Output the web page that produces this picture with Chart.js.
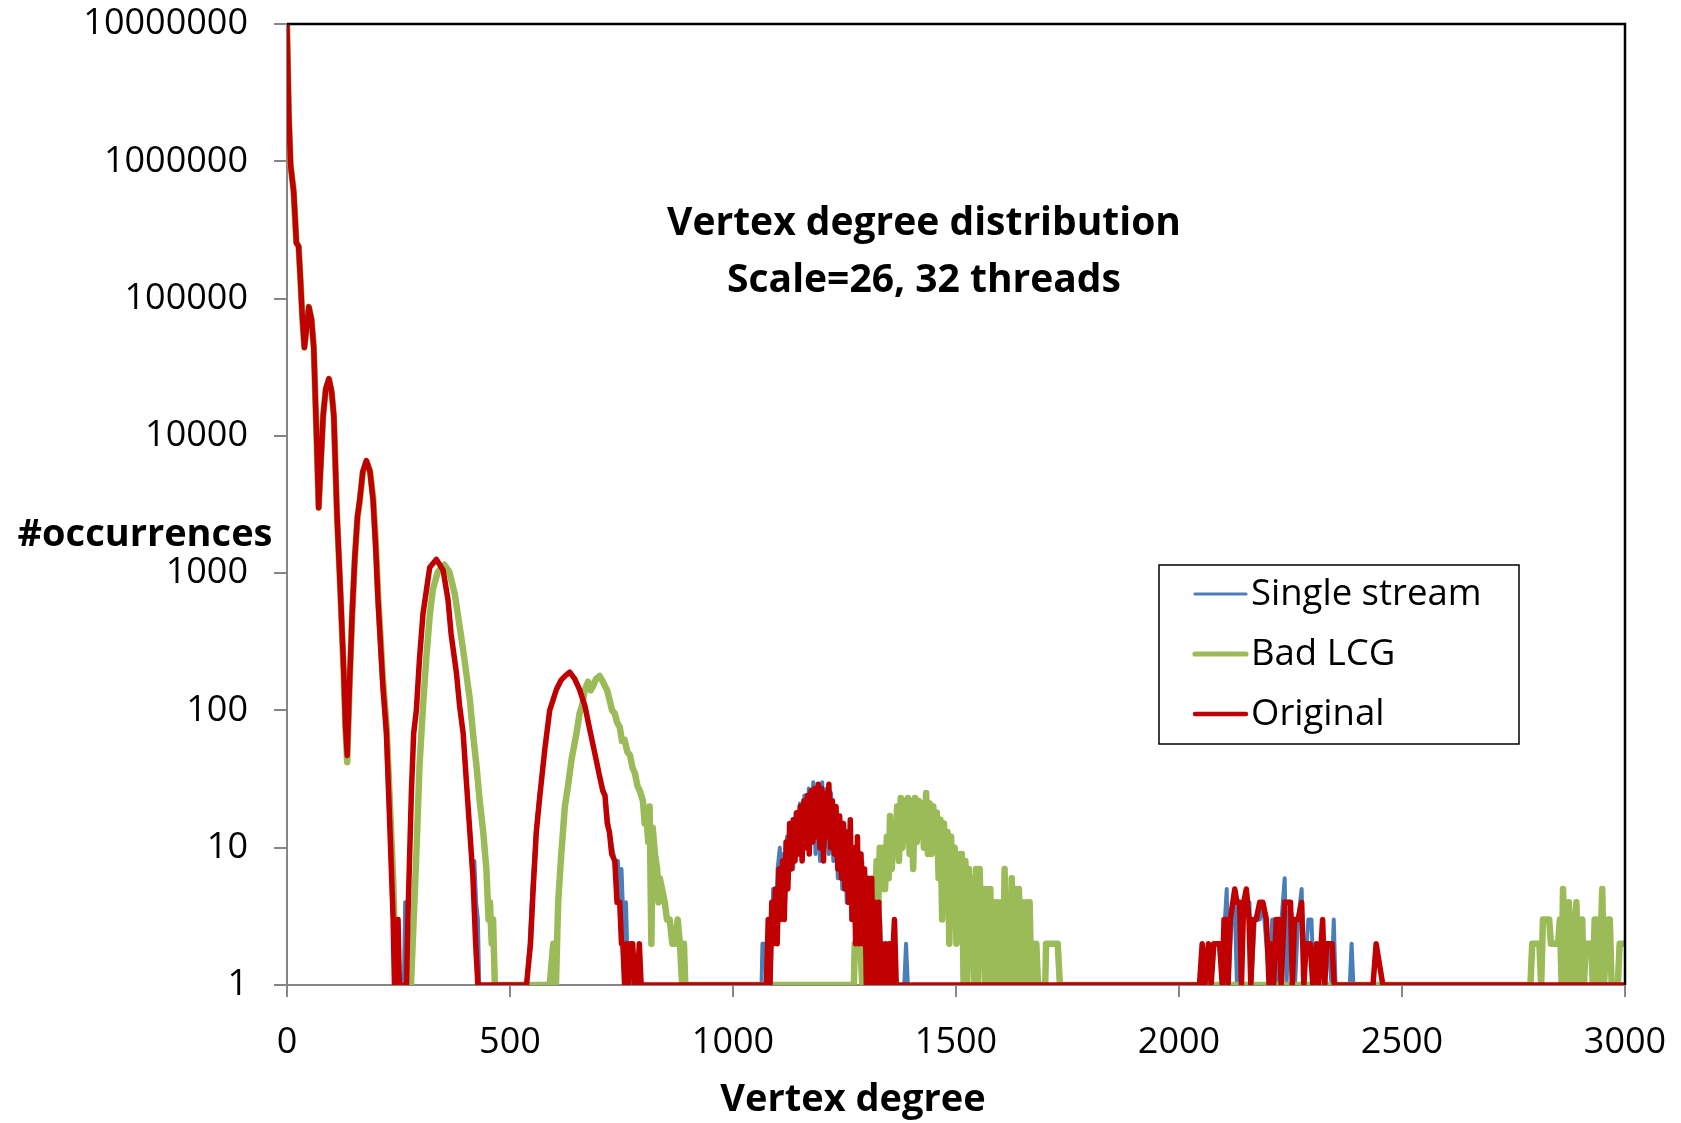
<!DOCTYPE html>
<html>
<head>
<meta charset="utf-8">
<title>Vertex degree distribution</title>
<script src="https://cdn.jsdelivr.net/npm/chart.js@4.4.1/dist/chart.umd.min.js"></script>
<style>
  html, body { margin: 0; padding: 0; background: #fff; }
  #wrap { width: 1681px; height: 1123px; position: relative; }
</style>
</head>
<body>
<div id="wrap"><canvas id="c"></canvas></div>
<script>
// --- data (degree -> #occurrences, 0 counts shown as 1) ---
const seriesNames = ['Single stream', 'Bad LCG', 'Original'];
const yTicks = [1, 10, 100, 1000, 10000, 100000, 1000000, 10000000];

const origDeg = [0, 4, 8, 15, 21, 26, 30, 34, 39, 44, 49, 55, 60, 67, 71, 76, 81, 87, 94, 100, 105, 112, 120, 127, 131, 135, 140, 146, 152, 158, 163, 170, 178, 186, 193, 199, 204, 210, 215, 223, 231, 238, 241, 246, 249, 252, 268, 271, 279, 284, 290, 297, 305, 320, 335, 350, 361, 368, 380, 387, 395, 402, 410, 417, 423, 428,
  537, 546, 552, 559, 567, 578, 589, 604, 615, 625, 634, 645, 656, 668, 679, 690, 701, 708, 713, 718, 723, 728, 735, 740, 746, 750, 753, 757, 761, 766, 770, 775, 780, 785, 790, 794,
  1075, 1079, 1083, 1087, 1091, 1095, 1099, 1103, 1107, 1111, 1115, 1119, 1123, 1127, 1131, 1135, 1139, 1143, 1147, 1151, 1155, 1159, 1163, 1167, 1171, 1175, 1179, 1183, 1187, 1191, 1195, 1199, 1203, 1207, 1211, 1215, 1219, 1223, 1227, 1231, 1235, 1239, 1243, 1247, 1251, 1255, 1259, 1263, 1267, 1271, 1275, 1279, 1283, 1287, 1291, 1295, 1299, 1303, 1307, 1311, 1315, 1319, 1323, 1327, 1331, 1335, 1339, 1343, 1347, 1351, 1355, 1362, 1366,
  2046, 2052, 2058, 2066, 2072, 2078, 2084, 2091, 2097, 2101, 2106, 2110, 2115, 2125, 2130, 2136, 2140, 2145, 2151, 2157, 2161, 2167, 2173, 2181, 2188, 2196, 2202, 2207, 2212, 2218, 2224, 2229, 2237, 2244, 2250, 2254, 2259, 2267, 2275, 2280, 2285, 2294, 2300, 2308, 2313, 2322, 2327, 2331, 2339, 2343, 2348,
  2435, 2442, 2457, 3000];
const origCnt = [10000000, 2200000, 940000, 600000, 255000, 240000, 140000, 76000, 44000, 62000, 87000, 70000, 44000, 8200, 3000, 6500, 14000, 22000, 26000, 21000, 14000, 2700, 700, 200, 80, 47, 150, 500, 1300, 2600, 3400, 5500, 6600, 5500, 3400, 1500, 640, 290, 150, 68, 13, 3, 1, 1, 3, 1, 1, 3, 26, 68, 100, 235, 510, 1100, 1260, 1050, 640, 360, 186, 108, 68, 31, 13, 6, 2, 1,
  1, 2, 5, 13, 24, 52, 100, 142, 167, 180, 190, 170, 142, 108, 72, 49, 33, 26, 24, 15, 13, 9, 8, 4, 4, 2, 2, 1, 2, 1, 2, 2, 1, 1, 2, 1,
  1, 3, 1, 4, 2, 5, 2, 7, 3, 8, 3, 11, 5, 15, 7, 16, 8, 18, 9, 20, 8, 22, 10, 24, 9, 26, 11, 27, 12, 29, 10, 27, 8, 25, 12, 29, 10, 22, 9, 20, 7, 17, 6, 15, 5, 13, 4, 16, 3, 10, 2, 12, 2, 9, 2, 7, 1, 6, 1, 6, 1, 4, 1, 4, 1, 2, 1, 2, 1, 2, 1, 3, 1,
  1, 2, 1, 2, 1, 2, 2, 2, 1, 3, 3, 1, 3, 5, 4, 4, 1, 4, 5, 3, 1, 3, 3, 4, 4, 3, 1, 2, 1, 3, 3, 1, 4, 4, 4, 1, 3, 3, 4, 1, 2, 2, 1, 2, 1, 3, 1, 2, 2, 2, 1,
  1, 2, 1, 1];

const singleDeg = [0, 4, 8, 15, 21, 26, 30, 34, 39, 44, 49, 55, 60, 67, 71, 76, 81, 87, 94, 100, 105, 112, 120, 127, 131, 135, 140, 146, 152, 158, 163, 170, 178, 186, 193, 199, 204, 210, 215, 223, 231, 238, 241, 262, 265, 268, 271, 279, 284, 290, 297, 305, 320, 335, 350, 361, 368, 380, 387, 395, 402, 410, 414, 420, 424, 428, 431,
  537, 544, 550, 558, 566, 578, 589, 604, 615, 625, 634, 645, 656, 668, 679, 690, 701, 713, 723, 735, 742, 746, 750, 756, 760, 765, 769, 772,
  1064, 1066, 1072, 1075, 1080, 1084, 1090, 1094, 1100, 1105, 1109, 1113, 1117, 1121, 1125, 1130, 1135, 1140, 1145, 1150, 1155, 1160, 1165, 1170, 1175, 1180, 1185, 1190, 1195, 1200, 1205, 1210, 1215, 1220, 1225, 1230, 1235, 1240, 1245, 1250, 1255, 1260, 1265, 1270, 1275, 1280, 1285, 1290, 1295, 1300, 1305, 1310, 1315, 1320, 1325, 1330, 1335, 1340, 1345, 1352, 1356, 1362, 1366, 1384, 1388, 1392,
  2046, 2052, 2058, 2066, 2072, 2080, 2090, 2097, 2103, 2107, 2111, 2118, 2125, 2130, 2133, 2138, 2145, 2151, 2158, 2162, 2170, 2181, 2188, 2196, 2203, 2209, 2214, 2220, 2230, 2237, 2241, 2248, 2255, 2260, 2267, 2275, 2280, 2290, 2297, 2302, 2310, 2320, 2325, 2335, 2342, 2347, 2351, 2383, 2387, 2391, 3000];
const singleCnt = [10000000, 2200000, 940000, 600000, 255000, 240000, 140000, 76000, 44000, 62000, 87000, 70000, 44000, 8200, 3000, 6500, 14000, 22000, 26000, 21000, 14000, 2700, 700, 200, 80, 47, 150, 500, 1300, 2600, 3400, 5500, 6600, 5500, 3400, 1500, 640, 290, 150, 68, 13, 3, 1, 1, 4, 1, 3, 26, 68, 100, 235, 510, 1100, 1260, 1050, 640, 360, 186, 108, 68, 31, 13, 8, 8, 4, 3, 1,
  1, 2, 5, 13, 24, 52, 100, 142, 167, 180, 190, 172, 142, 108, 72, 49, 33, 24, 13, 8, 8, 4, 7, 2, 4, 1, 2, 1,
  1, 2, 2, 1, 3, 1, 5, 2, 7, 10, 3, 9, 4, 12, 6, 15, 7, 18, 9, 21, 8, 24, 11, 27, 13, 30, 9, 28, 8, 30, 10, 27, 9, 25, 8, 19, 6, 17, 5, 15, 4, 12, 3, 10, 2, 9, 2, 8, 1, 6, 1, 5, 1, 4, 1, 3, 1, 2, 1, 2, 1, 3, 1, 1, 2, 1,
  1, 2, 1, 2, 1, 2, 2, 1, 3, 5, 1, 3, 4, 1, 4, 2, 4, 4, 4, 1, 3, 3, 4, 2, 1, 3, 3, 1, 3, 6, 1, 4, 3, 1, 3, 5, 1, 3, 3, 1, 2, 2, 1, 2, 1, 3, 1, 1, 2, 1, 1];

const lcgDeg = [0, 4, 8, 15, 21, 26, 30, 34, 39, 44, 49, 55, 60, 67, 71, 76, 81, 87, 94, 100, 105, 112, 120, 127, 131, 135, 140, 146, 152, 158, 163, 170, 178, 186, 193, 199, 204, 210, 215, 223, 231, 238, 245, 278, 284, 290, 297, 305, 312, 320, 327, 338, 353, 364, 376, 387, 395, 402, 410, 417, 425, 432, 440, 447, 452, 455, 459, 462, 466,
  589, 597, 603, 608, 615, 623, 630, 638, 649, 656, 662, 668, 675, 681, 686, 693, 701, 707, 713, 718, 723, 729, 735, 740, 746, 751, 757, 763, 769, 775, 780, 786, 791, 798, 802, 806, 810, 813, 817, 820, 825, 830, 833, 836, 841, 847, 852, 858, 864, 870, 876, 881, 886, 890, 893,
  1271, 1273, 1285, 1290, 1295, 1305, 1310, 1316, 1322, 1326, 1329, 1333, 1337, 1341, 1345, 1349, 1352, 1356, 1360, 1364, 1368, 1372, 1376, 1380, 1384, 1388, 1392, 1396, 1400, 1404, 1408, 1412, 1416, 1420, 1424, 1428, 1433, 1437, 1441, 1445, 1449, 1453, 1457, 1461, 1465, 1469, 1473, 1477, 1481, 1485, 1489, 1493, 1497, 1501, 1505, 1509, 1513, 1517, 1521, 1525, 1529, 1533, 1537, 1541, 1545, 1549, 1553, 1557, 1561, 1565, 1569, 1573, 1577, 1581, 1585, 1589, 1593, 1597, 1601, 1605, 1609, 1613, 1617, 1621, 1625, 1629, 1633, 1637, 1641, 1645, 1649, 1653, 1657, 1661, 1665, 1669, 1673, 1677, 1680, 1684, 1700, 1702, 1715, 1728, 1733,
  2788, 2792, 2808, 2812, 2816, 2830, 2834, 2850, 2854, 2858, 2861, 2865, 2870, 2874, 2879, 2883, 2887, 2891, 2895, 2900, 2904, 2908, 2912, 2924, 2928, 2932, 2937, 2941, 2945, 2949, 2953, 2958, 2962, 2966, 2970, 2984, 2988, 3000];
const lcgCnt = [10000000, 2200000, 940000, 600000, 255000, 240000, 140000, 76000, 44000, 62000, 87000, 70000, 44000, 8200, 3000, 6500, 14000, 22000, 26000, 21000, 14000, 2700, 700, 190, 75, 42, 140, 480, 1250, 2500, 3300, 5400, 6500, 5600, 3600, 1700, 720, 330, 170, 80, 20, 6, 1, 1, 3, 9, 39, 108, 235, 490, 760, 1020, 1150, 1020, 710, 410, 275, 186, 120, 68, 39, 22, 13, 7, 3, 4, 2, 3, 1,
  1, 2, 1, 4, 9, 20, 28, 44, 68, 95, 110, 142, 162, 140, 150, 170, 178, 165, 150, 140, 120, 100, 95, 82, 76, 60, 61, 50, 47, 38, 35, 28, 26, 22, 15, 16, 11, 20, 2, 14, 9, 7, 4, 6, 5, 4, 3, 3, 2, 2, 3, 2, 1, 2, 1,
  1, 2, 2, 1, 2, 3, 2, 2, 8, 4, 10, 5, 10, 5, 12, 6, 17, 7, 15, 9, 20, 8, 23, 10, 22, 12, 23, 9, 22, 7, 23, 11, 22, 12, 21, 10, 25, 9, 21, 9, 20, 10, 18, 6, 16, 3, 15, 4, 13, 2, 12, 4, 10, 2, 9, 3, 9, 1, 8, 1, 7, 2, 6, 1, 7, 1, 7, 2, 5, 1, 5, 1, 5, 1, 4, 1, 4, 1, 4, 1, 7, 1, 4, 1, 6, 1, 5, 1, 5, 1, 4, 1, 4, 1, 4, 1, 2, 1, 2, 1, 1, 2, 2, 2, 1,
  1, 2, 2, 1, 3, 3, 2, 2, 3, 1, 5, 2, 1, 4, 2, 1, 2, 4, 1, 2, 3, 1, 2, 2, 1, 3, 3, 1, 2, 5, 1, 2, 3, 3, 1, 1, 2, 2];

const toPoints = (xs, ys) => xs.map((x, i) => ({ x: x, y: ys[i] }));

// frame, titles and legend drawn on top of the plot
const decorations = {
  id: 'decorations',
  afterDraw(chart) {
    const { ctx, chartArea: a } = chart;
    ctx.save();
    // black top/right edge of plot area
    ctx.strokeStyle = '#000';
    ctx.lineWidth = 2.5;
    ctx.beginPath();
    ctx.moveTo(a.left, a.top);
    ctx.lineTo(a.right, a.top);
    ctx.lineTo(a.right, a.bottom);
    ctx.stroke();

    ctx.fillStyle = '#000';
    ctx.textBaseline = 'middle';
    ctx.textAlign = 'center';
    ctx.font = "bold 39px 'Open Sans'";
    ctx.fillText('Vertex degree distribution', 924, 224);
    ctx.fillText('Scale=26, 32 threads', 924, 281);
    ctx.font = "bold 38px 'Open Sans'";
    ctx.fillText('Vertex degree', 853, 1100);
    ctx.fillText('#occurrences', 145, 535);

    // legend box
    const bx = 1159, by = 565, bw = 360, bh = 179;
    ctx.fillStyle = '#fff';
    ctx.fillRect(bx, by, bw, bh);
    ctx.strokeStyle = '#000';
    ctx.lineWidth = 1.5;
    ctx.strokeRect(bx, by, bw, bh);
    ctx.font = "36.5px 'Open Sans'";
    ctx.textAlign = 'left';
    chart.data.datasets.forEach((ds, i) => {
      const y = 594 + i * 60;
      ctx.strokeStyle = ds.borderColor;
      ctx.lineWidth = ds.borderWidth * 0.8;
      ctx.lineCap = 'round';
      ctx.beginPath();
      ctx.moveTo(1195, y);
      ctx.lineTo(1246, y);
      ctx.stroke();
      ctx.fillStyle = '#000';
      ctx.fillText(ds.label, 1251, y + 1);
    });
    ctx.restore();
  }
};

Chart.defaults.font.family = "'Open Sans', sans-serif";
Chart.defaults.color = '#000';

new Chart(document.getElementById('c'), {
  type: 'line',
  data: {
    datasets: [
      { label: seriesNames[0], data: toPoints(singleDeg, singleCnt), borderColor: '#4A7EBB', borderWidth: 4, order: 3 },
      { label: seriesNames[1], data: toPoints(lcgDeg, lcgCnt), borderColor: '#9BBB59', borderWidth: 6.5, order: 2 },
      { label: seriesNames[2], data: toPoints(origDeg, origCnt), borderColor: '#C00000', borderWidth: 5.5, order: 1 }
    ]
  },
  options: {
    responsive: true,
    maintainAspectRatio: false,
    animation: false,
    layout: { padding: { top: 24, right: 56, left: 0, bottom: 0 } },
    elements: {
      point: { radius: 0, hoverRadius: 0 },
      line: { tension: 0, borderJoinStyle: 'round', borderCapStyle: 'round', fill: false }
    },
    plugins: {
      legend: { display: false },
      tooltip: { enabled: false },
      title: { display: false }
    },
    scales: {
      x: {
        type: 'linear',
        min: 0,
        max: 3000,
        grid: { drawOnChartArea: false, tickLength: 12, color: '#868686', lineWidth: 2 },
        border: { color: '#868686', width: 2 },
        ticks: { stepSize: 500, padding: 24, font: { size: 36 }, maxRotation: 0, callback: (v) => String(v) },
        afterFit: (s) => { s.height = 138; s.paddingLeft = 0; s.paddingRight = 0; }
      },
      y: {
        type: 'logarithmic',
        min: 1,
        max: 10000000,
        grid: { drawOnChartArea: false, tickLength: 13, color: '#868686', lineWidth: 2 },
        border: { color: '#868686', width: 2 },
        ticks: { padding: 26, font: { size: 36 }, callback: (v) => String(v) },
        afterBuildTicks: (s) => { s.ticks = yTicks.map(v => ({ value: v })); },
        afterFit: (s) => { s.width = 287; s.paddingTop = 0; s.paddingBottom = 0; }
      }
    }
  },
  plugins: [decorations]
});
</script>
</body>
</html>
